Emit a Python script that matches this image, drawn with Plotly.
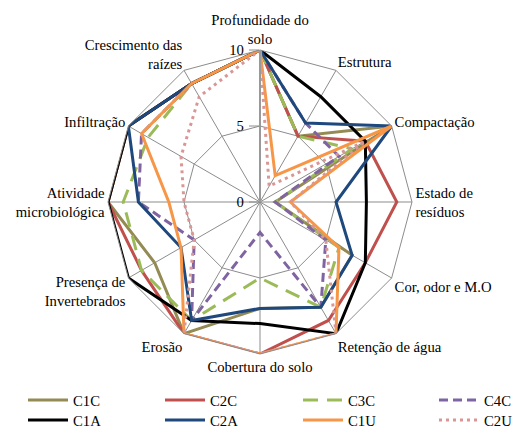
import plotly.graph_objects as go

categories = ["Profundidade do<br>solo", "Estrutura", "Compactação", "Estado de<br>resíduos",
              "Cor, odor e M.O", "Retenção de água", "Cobertura do solo", "Erosão",
              "Presença de<br>Invertebrados", "Atividade<br>microbiológica", "Infiltração",
              "Crescimento das<br>raízes"]

C1C = [10, 5, 10, 1, 7, 8, 7, 10, 8, 10, 10, 9]
C2C = [10, 5, 8, 9, 8, 9, 10, 10, 9, 10, 10, 9]
C3C = [10, 5, 7, 1, 6, 8, 5, 9, 9, 9, 8.5, 9]
C4C = [10, 6, 6, 1, 5, 8, 2, 9, 5, 8, 9, 9]
C1A = [10, 8, 8, 7, 8, 10, 8, 9, 10, 10, 10, 9]
C2A = [10, 6, 10, 5, 7, 8, 7, 9, 6, 8, 10, 9]
C1U = [10, 2, 10, 2, 6, 10, 10, 10, 6, 6, 9, 9]
C2U = [10, 1.2, 8, 2, 5, 10, 10, 10, 5, 5, 6, 8]

radial_ticks = [0, 5, 10]

series = [
    ("C1C", C1C, "#948A54", "solid"),
    ("C2C", C2C, "#C0504D", "solid"),
    ("C3C", C3C, "#9BBB59", "15px,9px"),
    ("C4C", C4C, "#8064A2", "9px,5px"),
    ("C1A", C1A, "#000000", "solid"),
    ("C2A", C2A, "#1F497D", "solid"),
    ("C1U", C1U, "#F79646", "solid"),
    ("C2U", C2U, "#D99694", "3px,4px"),
]

FONT = "Liberation Serif, Times New Roman, serif"
W, H = 514, 428
cx, cy, R = 260, 202, 152

# legend slot for each series: (text-left x px, row centre y px)
col_x = [73, 210, 348, 484]
row_y = [400, 420]

fig = go.Figure()
legends = {}
for i, (name, vals, color, dash) in enumerate(series):
    leg = "legend" if i == 0 else f"legend{i + 1}"
    fig.add_trace(go.Scatterpolar(
        r=vals + vals[:1], theta=categories + categories[:1],
        mode="lines", name=name, legend=leg, showlegend=True,
        line=dict(color=color, width=3, dash=dash),
    ))
    col, row = i % 4, i // 4
    legends[leg] = dict(orientation="v", xanchor="left", x=(col_x[col] - 50) / W,
                        yanchor="top", y=(H - (row_y[row] - 16)) / H,
                        font=dict(family=FONT, size=14.7), tracegroupgap=0,
                        itemwidth=40, bgcolor="rgba(0,0,0,0)")

fig.update_layout(
    width=W, height=H,
    showlegend=True,
    margin=dict(l=0, r=0, t=0, b=0, autoexpand=False),
    paper_bgcolor="white",
    font=dict(family=FONT, size=14.7, color="black"),
    polar=dict(
        domain=dict(x=[(cx - R) / W, (cx + R) / W], y=[(H - cy - R) / H, (H - cy + R) / H]),
        bgcolor="white",
        gridshape="linear",
        angularaxis=dict(rotation=90, direction="clockwise", gridcolor="#8c8c8c", gridwidth=1,
                         linecolor="#8c8c8c", linewidth=1, showline=True, ticks="",
                         tickfont=dict(family=FONT, size=14.7)),
        radialaxis=dict(range=[0, 10], tickvals=radial_ticks, angle=90, side="counterclockwise",
                        tickangle=90,
                        gridcolor="#8c8c8c", gridwidth=1, showline=True, linecolor="#999999",
                        linewidth=2, ticks="outside", ticklen=10, tickcolor="#8c8c8c",
                        tickfont=dict(family=FONT, size=14.7)),
    ),
    **legends,
)
fig.write_html("out.html", config={"displayModeBar": False},
               post_script="document.body.style.margin='0';document.body.style.overflow='hidden';")
